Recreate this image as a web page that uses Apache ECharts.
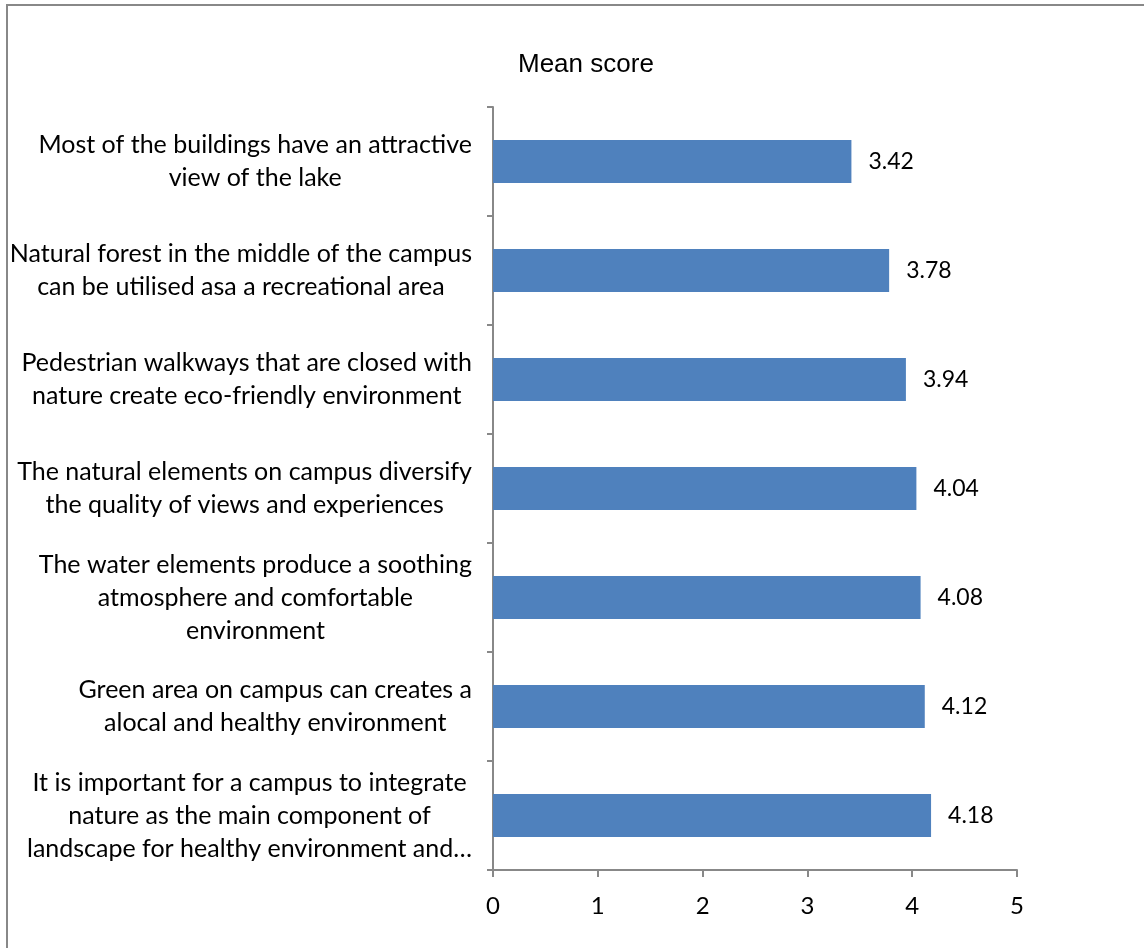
<!DOCTYPE html>
<html>
<head>
<meta charset="utf-8">
<script src="https://cdn.jsdelivr.net/npm/echarts@6/dist/echarts.min.js"></script>
<style>
html,body{margin:0;padding:0;background:#fff;}
#chart{width:1144px;height:948px;}
</style>
</head>
<body>
<div id="chart"></div>
<script>
const categories = [
  "Most of the buildings have an attractive\nview of the lake",
  "Natural forest in the middle of the campus\ncan be utilised asa a recreational area",
  "Pedestrian walkways that are closed with\nnature create eco-friendly environment",
  "The natural elements on campus diversify\nthe quality of views and experiences",
  "The water elements produce a soothing\natmosphere and comfortable\nenvironment",
  "Green area on campus can creates a\nalocal and healthy environment",
  "It is important for a campus to integrate\nnature as the main component of\nlandscape for healthy environment and\u2026"
];
const meanScores = [3.42, 3.78, 3.94, 4.04, 4.08, 4.12, 4.18];
const xTicks = [0, 1, 2, 3, 4, 5];

const FONT = 'Lato';
const chart = echarts.init(document.getElementById('chart'), null, {renderer: 'canvas'});
chart.setOption({
  backgroundColor: '#fff',
  animation: false,
  title: {
    text: 'Mean score',
    left: 513,
    top: 47,
    textStyle: {fontFamily: 'Liberation Sans', fontSize: 26, fontWeight: 'normal', color: '#000'}
  },
  graphic: [{
    type: 'polyline',
    shape: {points: [[7, 960], [7, 5], [1160, 5]]},
    style: {stroke: '#888', lineWidth: 2, fill: null},
    silent: true
  }],
  grid: {left: 493, right: 127, top: 107, bottom: 78, containLabel: false},
  xAxis: {
    type: 'value',
    min: xTicks[0],
    max: xTicks[xTicks.length - 1],
    interval: 1,
    splitLine: {show: false},
    axisLine: {show: true, lineStyle: {color: '#888', width: 2}},
    axisTick: {show: true, length: 7, lineStyle: {color: '#888', width: 2}},
    axisLabel: {margin: 24, fontFamily: FONT, fontSize: 24, color: '#000'}
  },
  yAxis: {
    type: 'category',
    inverse: true,
    data: categories,
    axisLine: {show: true, lineStyle: {color: '#888', width: 2}},
    axisTick: {show: true, length: 6, lineStyle: {color: '#888', width: 2}},
    axisLabel: {
      margin: 21,
      align: 'right',
      fontFamily: FONT,
      fontSize: 25,
      color: '#000',
      formatter: function (v) {
        return v.split('\n').map(function (l) { return '{c|' + l + '}'; }).join('\n');
      },
      rich: {c: {align: 'center', fontFamily: FONT, fontSize: 25, lineHeight: 33, color: '#000'}}
    }
  },
  series: [{
    type: 'bar',
    data: meanScores,
    barWidth: 43,
    itemStyle: {color: '#4F81BD'},
    label: {
      show: true,
      position: 'right',
      distance: 17,
      fontFamily: FONT,
      fontSize: 23,
      color: '#000',
      formatter: function (p) { return p.value.toFixed(2); }
    }
  }]
});
</script>
</body>
</html>
